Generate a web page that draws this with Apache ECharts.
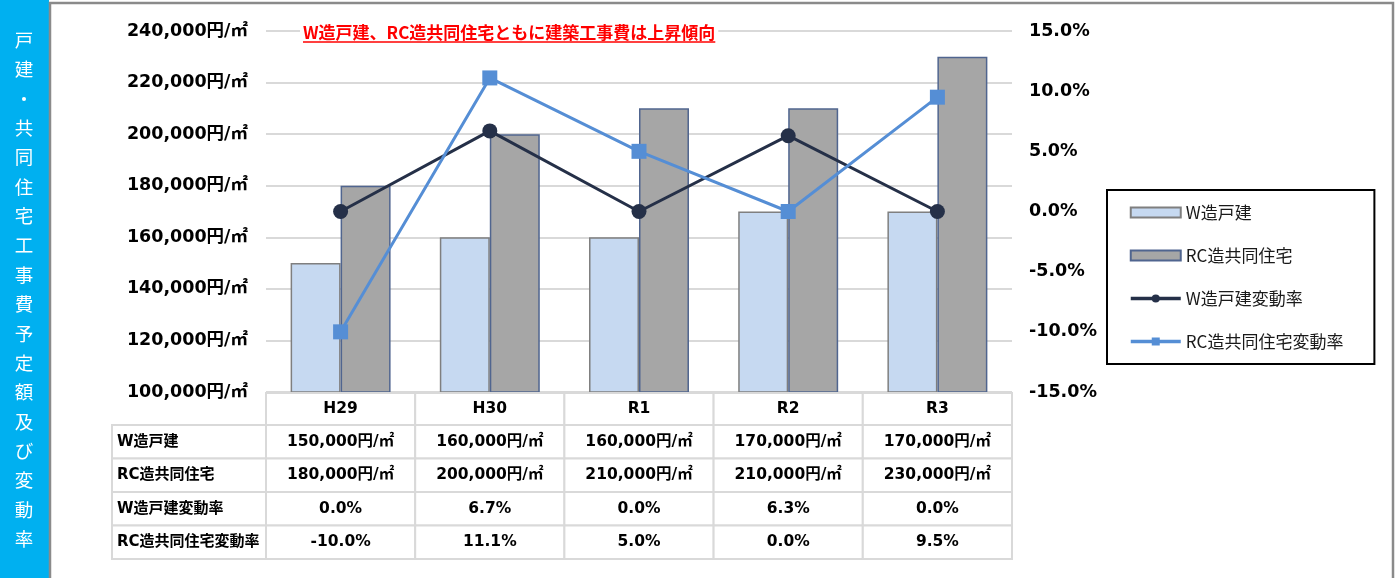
<!DOCTYPE html>
<html><head><meta charset="utf-8">
<script src="https://cdn.jsdelivr.net/npm/echarts@6/dist/echarts.min.js"></script>
<style>html,body{margin:0;padding:0;background:#fff}#c{width:1398px;height:578px}</style>
</head><body><div id="c"></div>
<script>
const categories = ['H29', 'H30', 'R1', 'R2', 'R3'];
const wCost = [150000, 160000, 160000, 170000, 170000];
const rcCost = [180000, 200000, 210000, 210000, 230000];
const wRate = [0.0, 6.7, 0.0, 6.3, 0.0];
const rcRate = [-10.0, 11.1, 5.0, 0.0, 9.5];
const costAxis = { min: 100000, max: 240000, interval: 20000 };
const rateAxis = { min: -15, max: 15, interval: 5 };
const seriesNames = ['W造戸建', 'RC造共同住宅', 'W造戸建変動率', 'RC造共同住宅変動率'];
const sideTitle = '戸建・共同住宅工事費予定額及び変動率';
const headline = 'W造戸建、RC造共同住宅ともに建築工事費は上昇傾向';

const LATIN = "'DejaVu Sans','Noto Sans CJK JP',sans-serif";
const JP = "'Noto Sans CJK JP','Noto Sans',sans-serif";
const fmtYen = v => Number(v).toLocaleString('en-US') + '円/㎡';
const fmtPct = v => Number(v).toFixed(1) + '%';

const chart = echarts.init(document.getElementById('c'), null, { renderer: 'canvas' });

const option = {
  backgroundColor: '#fff',
  animation: false,
  grid: { left: 266, right: 386, top: 31, bottom: 186, containLabel: false },
  legend: {
    orient: 'vertical', left: 1107, top: 190,
    padding: [14, 31, 14, 22], itemGap: 26, itemWidth: 50, itemHeight: 10,
    borderColor: '#000', borderWidth: 2, backgroundColor: '#fff',
    lineStyle: { width: 3.5 },
    textStyle: { fontFamily: JP, fontSize: 17, color: '#1a1a1a' },
    data: [
      { name: seriesNames[0], icon: 'rect' },
      { name: seriesNames[1], icon: 'rect' },
      { name: seriesNames[2] },
      { name: seriesNames[3] }
    ]
  },
  xAxis: {
    type: 'category', data: categories,
    axisLine: { show: false }, axisTick: { show: false }, axisLabel: { show: false }
  },
  yAxis: [
    {
      type: 'value', min: costAxis.min, max: costAxis.max, interval: costAxis.interval,
      axisLine: { show: false }, axisTick: { show: false },
      splitLine: { lineStyle: { color: '#D9D9D9', width: 2 } },
      axisLabel: { formatter: fmtYen, margin: 18, color: '#000', fontWeight: 'bold', fontSize: 17.5, fontFamily: LATIN }
    },
    {
      type: 'value', min: rateAxis.min, max: rateAxis.max, interval: rateAxis.interval,
      position: 'right',
      axisLine: { show: false }, axisTick: { show: false }, splitLine: { show: false },
      axisLabel: { formatter: fmtPct, margin: 17, color: '#000', fontWeight: 'bold', fontSize: 17.5, fontFamily: LATIN, align: 'left' }
    }
  ],
  series: [
    {
      name: seriesNames[0], type: 'bar', data: wCost, yAxisIndex: 0,
      barGap: '0%', barCategoryGap: '33%',
      itemStyle: { color: '#C6D9F1', borderColor: '#7F7F7F', borderWidth: 1.5 }
    },
    {
      name: seriesNames[1], type: 'bar', data: rcCost, yAxisIndex: 0,
      barGap: '0%', barCategoryGap: '33%',
      itemStyle: { color: '#A6A6A6', borderColor: '#50658F', borderWidth: 1.5 }
    },
    {
      name: seriesNames[2], type: 'line', data: wRate, yAxisIndex: 1, z: 5,
      symbol: 'circle', symbolSize: 15,
      lineStyle: { color: '#253048', width: 3 },
      itemStyle: { color: '#253048' }
    },
    {
      name: seriesNames[3], type: 'line', data: rcRate, yAxisIndex: 1, z: 6,
      symbol: 'rect', symbolSize: 15,
      lineStyle: { color: '#558ED5', width: 3 },
      itemStyle: { color: '#558ED5' }
    }
  ]
};
chart.setOption(option);

// measure helper
const mc = document.createElement('canvas').getContext('2d');
function textW(t, font) { mc.font = font; return mc.measureText(t).width; }

// table and decorations built from data via the chart's own axis scale
const centers = categories.map(c => chart.convertToPixel({ xAxisIndex: 0 }, c));
const band = centers[1] - centers[0];
const tableLeft = centers[0] - band / 2;
const labelLeft = 112;
const headerTop = 393, headerH = 32;
const rowH = 33.5;
const firstRowTop = headerTop + headerH;
const border = { stroke: '#D9D9D9', lineWidth: 2, fill: '#fff' };
const cellFont = "bold 15.5px " + LATIN;
const labelFont = "bold 15px " + LATIN;

const rows = [
  { name: seriesNames[0], vals: wCost.map(fmtYen) },
  { name: seriesNames[1], vals: rcCost.map(fmtYen) },
  { name: seriesNames[2], vals: wRate.map(fmtPct) },
  { name: seriesNames[3], vals: rcRate.map(fmtPct) }
];

const els = [];
// left strip
els.push({ type: 'rect', z: 100, shape: { x: 0, y: 0, width: 49, height: 578 }, style: { fill: '#00B0F0' } });
els.push({
  type: 'text', z: 101, x: 24, y: 40 - 29.35 / 2,
  style: { text: sideTitle.split('').join('\n'), font: '18.5px ' + JP, fill: '#fff', align: 'center', verticalAlign: 'top', lineHeight: 29.35 }
});
// frame
els.push({ type: 'rect', z: 100, shape: { x: 50, y: 3, width: 1343, height: 700 }, style: { fill: 'none', stroke: '#8A8A8A', lineWidth: 2.5 } });
// headline
const hlFont = 'bold 17px ' + JP;
const hlW = textW(headline, hlFont);
els.push({ type: 'rect', z: 50, shape: { x: 300, y: 24, width: hlW + 6, height: 17 }, style: { fill: '#fff' } });
els.push({ type: 'text', z: 51, x: 303, y: 33, style: { text: headline, font: hlFont, fill: '#FF0000', align: 'left', verticalAlign: 'middle' } });
els.push({ type: 'line', z: 51, shape: { x1: 303, y1: 42, x2: 303 + hlW, y2: 42 }, style: { stroke: '#FF0000', lineWidth: 1.5 } });

// header row
categories.forEach((c, i) => {
  els.push({ type: 'rect', z: 20, shape: { x: centers[i] - band / 2, y: headerTop, width: band, height: headerH }, style: border });
  els.push({ type: 'text', z: 21, x: centers[i], y: headerTop + headerH / 2, style: { text: c, font: cellFont, fill: '#000', align: 'center', verticalAlign: 'middle' } });
});
// data rows
rows.forEach((r, ri) => {
  const top = firstRowTop + ri * rowH;
  els.push({ type: 'rect', z: 20, shape: { x: labelLeft, y: top, width: tableLeft - labelLeft, height: rowH }, style: border });
  els.push({ type: 'text', z: 21, x: labelLeft + 5, y: top + rowH / 2, style: { text: r.name, font: labelFont, fill: '#000', align: 'left', verticalAlign: 'middle' } });
  r.vals.forEach((v, i) => {
    els.push({ type: 'rect', z: 20, shape: { x: centers[i] - band / 2, y: top, width: band, height: rowH }, style: border });
    els.push({ type: 'text', z: 21, x: centers[i], y: top + rowH / 2, style: { text: v, font: cellFont, fill: '#000', align: 'center', verticalAlign: 'middle' } });
  });
});

chart.setOption({ graphic: els });
</script>
</body></html>
